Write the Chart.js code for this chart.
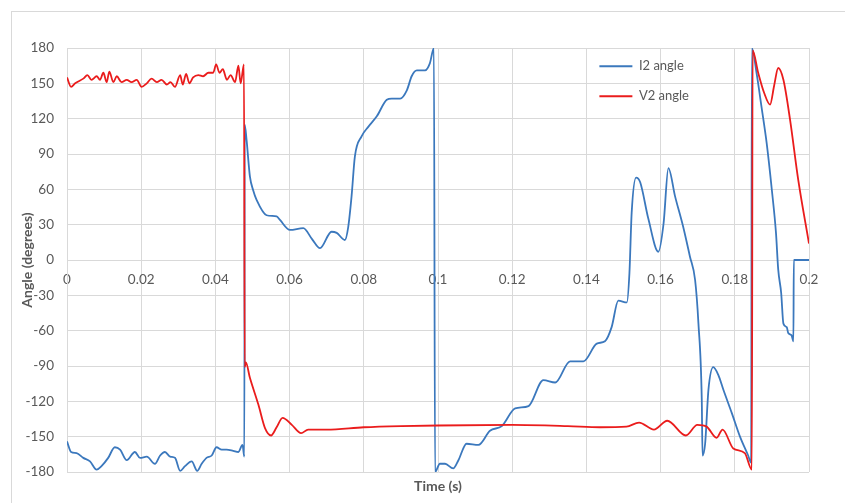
<!DOCTYPE html>
<html>
<head>
<meta charset="utf-8">
<title>I2 / V2 angle</title>
<script src="https://cdn.jsdelivr.net/npm/chart.js@4.4.1/dist/chart.umd.min.js"></script>
<style>
  html, body { margin: 0; padding: 0; background: #fff; }
  #wrap { position: relative; width: 845px; height: 503px; overflow: hidden; }
  #frame { position: absolute; left: 11px; top: 11px; width: 900px; height: 600px; border: 1px solid #d9d9d9; }
  canvas { position: absolute; left: 0; top: 0; }
</style>
</head>
<body>
<div id="wrap">
  <div id="frame"></div>
  <canvas id="chart" width="845" height="503"></canvas>
</div>
<script>
// values
const timeTicks = [0, 0.02, 0.04, 0.06, 0.08, 0.1, 0.12, 0.14, 0.16, 0.18, 0.2];
const angleTicks = [-180, -150, -120, -90, -60, -30, 0, 30, 60, 90, 120, 150, 180];

// I2 angle (blue)
const i2Time = [
  0, 0.0011, 0.0026, 0.0044, 0.0062, 0.008, 0.0093, 0.0111, 0.0129, 0.0143,
  0.0161, 0.0183, 0.0197, 0.0215, 0.0237, 0.0251, 0.0264, 0.0278, 0.0291, 0.0305,
  0.0318, 0.0336, 0.0351, 0.0363, 0.0376, 0.039, 0.0403, 0.0417, 0.043, 0.0448,
  0.0462, 0.0473, 0.0478,
  0.0479, 0.0484, 0.0493, 0.0502, 0.0511, 0.0538, 0.0565, 0.0574, 0.0601, 0.0637,
  0.066, 0.0682, 0.0713, 0.0727, 0.0749, 0.0758, 0.0767, 0.0776, 0.0794, 0.0812,
  0.0835, 0.0862, 0.0875, 0.0898, 0.0916, 0.0929, 0.0943, 0.0965, 0.0978, 0.0989,
  0.0992, 0.1005, 0.1019, 0.1041, 0.1055, 0.1077, 0.1109, 0.114, 0.1172, 0.1208,
  0.1244, 0.1284, 0.1316, 0.1356, 0.1392, 0.1428, 0.145, 0.1468, 0.1486, 0.1509,
  0.1516, 0.1522, 0.1534, 0.1545, 0.1567, 0.1594, 0.1608, 0.1621, 0.1639, 0.1661,
  0.1679, 0.1693, 0.1702, 0.1711, 0.1713, 0.172, 0.1729, 0.1742, 0.1756, 0.1769,
  0.1792, 0.1814, 0.1836, 0.1844,
  0.1846, 0.1859, 0.1872, 0.1886, 0.19, 0.1911, 0.1917, 0.1925, 0.1931, 0.194,
  0.1944, 0.1953, 0.1958, 0.1959, 0.2
];
const i2Angle = [
  -154, -163, -164, -168, -171, -178, -175, -168, -159, -161,
  -170, -163, -168, -167, -173, -166, -163, -167, -168, -179,
  -175, -171, -179, -173, -168, -166, -159, -161, -161, -162,
  -163, -157, -167,
  115, 102, 71, 59, 51, 38, 37, 34, 25.5, 27,
  18, 10, 24, 23, 17, 28, 54, 88, 105, 113,
  122, 136, 137, 137, 144, 156, 161, 161, 167, 180,
  -180, -173, -173, -177, -170, -156, -157, -145, -141, -126,
  -124, -102, -104, -86, -86, -71, -69, -57, -34.5, -36,
  -11, 40, 70, 66, 35, 7, 31, 78, 54, 28,
  3, -17, -54, -119, -166, -156, -110, -91, -98, -110,
  -130, -150, -166, -172,
  180, 158, 130, 99, 59, 23, -8, -28, -54, -57,
  -62, -64, -69, 0, 0
];

// V2 angle (red)
const v2Time = [
  0, 0.0011, 0.0022, 0.0044, 0.0055, 0.0066, 0.008, 0.0089, 0.0098, 0.0107,
  0.0114, 0.0125, 0.0134, 0.0147, 0.0161, 0.0174, 0.0188, 0.0201, 0.0215, 0.0228,
  0.0242, 0.0255, 0.0269, 0.0279, 0.0291, 0.0305, 0.0312, 0.0321, 0.033, 0.034,
  0.0354, 0.0367, 0.0381, 0.0394, 0.0402, 0.0411, 0.042, 0.0431, 0.0441, 0.0453,
  0.0462, 0.0468, 0.0477,
  0.0479, 0.0482, 0.0493, 0.0516, 0.0534, 0.055, 0.0565, 0.0581, 0.0606, 0.0631, 0.065,
  0.07, 0.08, 0.09, 0.1, 0.12, 0.135, 0.1437, 0.1508, 0.1542, 0.1582,
  0.1618, 0.1668, 0.1699, 0.1724, 0.1751, 0.1767, 0.1796, 0.1827, 0.1846,
  0.1848, 0.1863, 0.1879, 0.1895, 0.1906, 0.1917, 0.1931, 0.1949, 0.1971, 0.2
];
const v2Angle = [
  155, 147, 150, 154, 157, 153, 156, 153, 159, 151,
  160, 151, 156, 151, 153, 151, 153, 147, 150, 154,
  151, 153, 149, 151, 147, 157, 149, 158, 150, 155,
  157, 156, 159, 159, 166, 159, 162, 153, 157, 151,
  165, 150, 166,
  -91, -87, -100, -123, -143, -149, -142, -134, -140, -147, -144,
  -144, -142, -141, -140.5, -140, -141, -142, -141.5, -138, -144,
  -136.5, -149, -140, -141.5, -151, -144, -160, -164, -178,
  178, 159, 142, 132, 148, 163, 153, 119, 68, 14
];

const toPoints = (xs, ys) => xs.map((x, i) => ({ x: x, y: ys[i] }));

// put the legend inside the plot, top right, like the Excel original
const legendInPlot = {
  id: 'legendInPlot',
  afterLayout(chart) {
    const lg = chart.legend;
    const pad = lg.options.labels.padding;
    const left = chart.scales.x.getPixelForValue(0.1435) - pad;
    const top = chart.scales.y.getPixelForValue(164.5) - 6.5 - pad;
    lg.left = left;
    lg.top = top;
    lg.right = left + lg.width;
    lg.bottom = top + lg.height;
  }
};

Chart.defaults.font.family = "Lato, 'Open Sans', sans-serif";
Chart.defaults.color = '#595959';

const gridColor = '#d9d9d9';

new Chart(document.getElementById('chart'), {
  type: 'line',
  data: {
    datasets: [{
      label: 'I2 angle',
      data: toPoints(i2Time, i2Angle),
      borderColor: '#3b78bd',
      backgroundColor: '#3b78bd',
      borderWidth: 1.8,
      pointRadius: 0,
      cubicInterpolationMode: 'monotone',
      order: 1
    }, {
      label: 'V2 angle',
      data: toPoints(v2Time, v2Angle),
      borderColor: '#ea1c1c',
      backgroundColor: '#ea1c1c',
      borderWidth: 1.8,
      pointRadius: 0,
      cubicInterpolationMode: 'monotone',
      order: 0
    }]
  },
  options: {
    responsive: false,
    animation: false,
    devicePixelRatio: 1,
    layout: { padding: { left: 12, top: 48, right: 36, bottom: 0 } },
    plugins: {
      tooltip: { enabled: false },
      legend: {
        position: 'chartArea',
        align: 'start',
        labels: {
          boxWidth: 33,
          boxHeight: 2,
          padding: 17,
          color: '#595959',
          font: { size: 13 },
          generateLabels(chart) {
            return Chart.defaults.plugins.legend.labels.generateLabels(chart)
              .sort((a, b) => a.datasetIndex - b.datasetIndex)
              .map(l => Object.assign(l, { lineWidth: 0, fillStyle: l.strokeStyle }));
          }
        }
      }
    },
    scales: {
      x: {
        type: 'linear',
        min: 0,
        max: 0.2,
        position: { y: 0 },
        afterBuildTicks: s => { s.ticks = timeTicks.map(v => ({ value: v })); },
        afterFit: s => { s.height = 0; },
        grid: { color: gridColor, drawTicks: false },
        border: { color: gridColor },
        ticks: {
          padding: 12,
          maxRotation: 0,
          autoSkip: false,
          font: { size: 13.5 },
          callback: v => String(+Number(v).toFixed(2))
        }
      },
      xTitle: {
        type: 'linear',
        axis: 'x',
        min: 0,
        max: 0.2,
        position: 'bottom',
        grid: { display: false },
        border: { display: false },
        ticks: { display: false },
        afterFit: s => { s.height = 31; },
        title: {
          display: true,
          text: 'Time (s)',
          font: { size: 14, weight: 'bold' },
          padding: { top: 0, bottom: 8 }
        }
      },
      y: {
        type: 'linear',
        min: -180,
        max: 180,
        position: 'left',
        afterBuildTicks: s => { s.ticks = angleTicks.map(v => ({ value: v })); },
        afterFit: s => { s.width = 55; },
        grid: { color: gridColor, drawTicks: false },
        border: { color: gridColor },
        ticks: { padding: 13, font: { size: 13.5 } },
        title: {
          display: true,
          text: 'Angle (degrees)',
          font: { size: 14, weight: 'bold' },
          padding: { top: 7, bottom: 0 }
        }
      }
    }
  },
  plugins: [legendInPlot]
});
</script>
</body>
</html>
